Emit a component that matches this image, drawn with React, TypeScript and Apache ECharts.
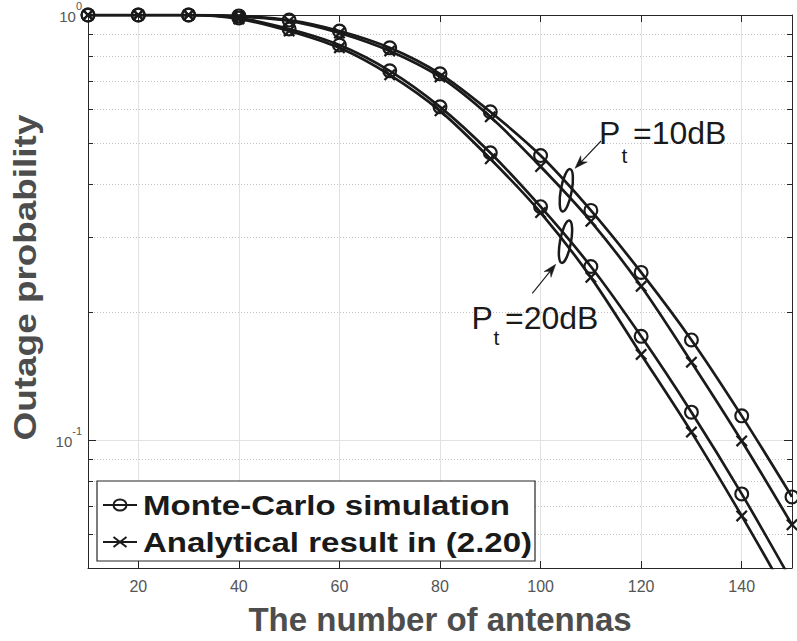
import React, { useEffect, useRef } from 'react';
import * as echarts from 'echarts';

// ---------- data ----------
const antennas = [10, 20, 30, 40, 50, 60, 70, 80, 90, 100, 110, 120, 130, 140, 150];
const mcPt10 = [1, 1, 1, 0.995, 0.973, 0.917, 0.837, 0.727, 0.592, 0.467, 0.347, 0.248, 0.172, 0.114, 0.0735];
const anPt10 = [1, 1, 1, 0.992, 0.968, 0.907, 0.823, 0.715, 0.576, 0.44, 0.327, 0.23, 0.1525, 0.0995, 0.0632];
const mcPt20 = [1, 1, 1, 0.984, 0.927, 0.85, 0.739, 0.608, 0.474, 0.354, 0.256, 0.1754, 0.1163, 0.0747, 0.0464];
const anPt20 = [1, 1, 1, 0.979, 0.917, 0.837, 0.723, 0.595, 0.459, 0.343, 0.2414, 0.159, 0.1044, 0.0663, 0.0412];
const minorYValues = [0.06, 0.07, 0.08, 0.09, 0.2, 0.3, 0.4, 0.5, 0.6, 0.7, 0.8, 0.9];
const legendLabels = ['Monte-Carlo simulation', 'Analytical result in (2.20)'];
const xTitle = 'The number of antennas';
const yTitle = 'Outage probability';
const annot10 = ['P', 't', '=10dB'];
const annot20 = ['P', 't', '=20dB'];

const FONT = "'Liberation Sans', Arial, Helvetica, sans-serif";
const INK = '#1a1a1a';
const AXIS = '#262626';
const RING = 'path://M0,-10A10,10,0,1,1,0,10A10,10,0,1,1,0,-10ZM0,-7.1A7.1,7.1,0,1,0,0,7.1A7.1,7.1,0,1,0,0,-7.1Z';
const CROSS = 'path://M-10,-7.3L-7.3,-10L0,-2.7L7.3,-10L10,-7.3L2.7,0L10,7.3L7.3,10L0,2.7L-7.3,10L-10,7.3L-2.7,0Z';

function arrow(sx: number, sy: number, tx: number, ty: number) {
  const dx = tx - sx, dy = ty - sy;
  const len = Math.sqrt(dx * dx + dy * dy);
  const ux = dx / len, uy = dy / len;
  const nx = -uy, ny = ux;
  const L = 13, W = 4.5;
  const bx = tx - L * ux, by = ty - L * uy;
  const notch = [tx - 9 * ux, ty - 9 * uy];
  return [
    { type: 'line', z: 20, shape: { x1: sx, y1: sy, x2: notch[0], y2: notch[1] }, style: { stroke: INK, lineWidth: 1.1 } },
    {
      type: 'polygon', z: 20,
      shape: { points: [[tx, ty], [bx + W * nx, by + W * ny], notch, [bx - W * nx, by - W * ny]] },
      style: { fill: INK, stroke: INK, lineWidth: 0.5 },
    },
  ];
}

function txt(x: number, y: number, text: string, size: number, extra: any = {}) {
  return {
    type: 'text', x, y, z: 20, ...extra,
    style: { text, fontSize: size, fontFamily: FONT, fill: INK, align: 'left', verticalAlign: 'middle', ...(extra.style || {}) },
  };
}

function isPow10(v: number) {
  const l = Math.log10(v);
  return Math.abs(l - Math.round(l)) < 1e-6;
}

export default function App() {
  const ref = useRef<HTMLDivElement>(null);
  useEffect(() => {
    if (!ref.current) return;
    const chart = echarts.init(ref.current, undefined, { renderer: 'svg' });

    const curve = (name: string, vals: number[], symbol: string, size: number, extra: any = {}) => ({
      type: 'line',
      name,
      data: antennas.map((x, i) => [x, vals[i]]),
      symbol,
      symbolSize: size,
      showSymbol: true,
      smooth: 0.3,
      clip: true,
      silent: true,
      z: 3,
      lineStyle: { color: INK, width: 2.7 },
      itemStyle: { color: INK, borderWidth: 0 },
      ...extra,
    });

    const markData: any[] = [];
    minorYValues.forEach((v) => {
      markData.push({ yAxis: v, lineStyle: { type: [1, 2], color: '#c2c2c2', width: 1 } });
      markData.push([{ coord: [10, v], lineStyle: { type: 'solid', color: AXIS, width: 1 } }, { coord: [11, v] }]);
      markData.push([{ coord: [149, v], lineStyle: { type: 'solid', color: AXIS, width: 1 } }, { coord: [150, v] }]);
    });

    const xAxisBase = {
      type: 'value', min: 10, max: 150, splitNumber: 7,
      axisLine: { show: true, onZero: false, lineStyle: { color: AXIS, width: 1 } },
      axisTick: { show: true, inside: true, length: 7, lineStyle: { color: AXIS } },
    };
    const yAxisBase = {
      type: 'log', logBase: 10, min: 0.05, max: 1,
      axisLine: { show: true, onZero: false, lineStyle: { color: AXIS, width: 1 } },
      axisTick: { show: true, inside: true, length: 8, lineStyle: { color: AXIS } },
    };

    const legendX = 97, legendY = 481, r1 = 505, r2 = 542;

    chart.setOption({
      animation: false,
      backgroundColor: '#ffffff',
      grid: { left: 88, right: 5, top: 15, bottom: 72, containLabel: false },
      xAxis: [
        {
          ...xAxisBase, position: 'bottom',
          axisLabel: { show: true, showMinLabel: false, showMaxLabel: false, fontSize: 16, color: '#555555', fontFamily: FONT, margin: 10 },
          splitLine: { show: true, lineStyle: { color: '#e2e2e2', width: 1 } },
          name: xTitle, nameLocation: 'middle', nameGap: 35,
          nameTextStyle: { fontSize: 33, fontWeight: 'bold', color: '#4d4d4d', fontFamily: FONT },
        },
        { ...xAxisBase, position: 'top', axisLabel: { show: false }, splitLine: { show: false } },
      ],
      yAxis: [
        {
          ...yAxisBase, position: 'left',
          axisLabel: {
            show: true, margin: 6, padding: [0, 0, 6, 0],
            formatter: (v: number) => {
              if (!isPow10(v)) return '';
              const e = Math.round(Math.log10(v));
              return '{b|10}{s|' + e + '}';
            },
            rich: {
              b: { fontSize: 15, color: '#555555', fontFamily: FONT, lineHeight: 24, verticalAlign: 'bottom' },
              s: { fontSize: 11, color: '#555555', fontFamily: FONT, lineHeight: 10, verticalAlign: 'top' },
            },
          },
          splitLine: { show: true, lineStyle: { color: '#e2e2e2', width: 1 } },
        },
        { ...yAxisBase, position: 'right', axisLabel: { show: false }, splitLine: { show: false } },
      ],
      series: [
        curve(legendLabels[0], mcPt10, RING, 15, {
          markLine: { silent: true, symbol: ['none', 'none'], label: { show: false }, z: 1, animation: false, data: markData },
        }),
        curve(legendLabels[1], anPt10, CROSS, 12),
        curve(legendLabels[0], mcPt20, RING, 15),
        curve(legendLabels[1], anPt20, CROSS, 12),
      ],
      graphic: {
        elements: [
          // y axis title
          {
            type: 'text', x: 25, y: 277.5, rotation: Math.PI / 2, scaleX: 1.19, z: 20,
            style: { text: yTitle, fontSize: 31, fontWeight: 'bold', fontFamily: FONT, fill: '#4d4d4d', align: 'center', verticalAlign: 'middle' },
          },
          // legend
          {
            type: 'rect', z: 20, shape: { x: legendX, y: legendY, width: 438, height: 80 },
            style: { fill: '#ffffff', stroke: AXIS, lineWidth: 1.2 },
          },
          { type: 'line', z: 21, shape: { x1: 103, y1: r1, x2: 137, y2: r1 }, style: { stroke: INK, lineWidth: 2 } },
          { type: 'ellipse', z: 21, shape: { cx: 120, cy: r1, rx: 6.5, ry: 5.5 }, style: { fill: 'none', stroke: INK, lineWidth: 2 } },
          { type: 'line', z: 21, shape: { x1: 103, y1: r2, x2: 137, y2: r2 }, style: { stroke: INK, lineWidth: 2 } },
          { type: 'line', z: 21, shape: { x1: 113.5, y1: r2 - 5, x2: 126.5, y2: r2 + 5 }, style: { stroke: INK, lineWidth: 2 } },
          { type: 'line', z: 21, shape: { x1: 113.5, y1: r2 + 5, x2: 126.5, y2: r2 - 5 }, style: { stroke: INK, lineWidth: 2 } },
          txt(143, r1, legendLabels[0], 28, { scaleX: 1.18, z: 21, style: { fontWeight: 'bold' } }),
          txt(143, r2, legendLabels[1], 28, { scaleX: 1.18, z: 21, style: { fontWeight: 'bold' } }),
          // annotations
          {
            type: 'ellipse', z: 20, x: 566.3, y: 190.3, rotation: -0.18,
            shape: { cx: 0, cy: 0, rx: 5.5, ry: 21.5 }, style: { fill: 'none', stroke: INK, lineWidth: 2.5 },
          },
          {
            type: 'ellipse', z: 20, x: 565.5, y: 241.7, rotation: -0.18,
            shape: { cx: 0, cy: 0, rx: 5.5, ry: 21.5 }, style: { fill: 'none', stroke: INK, lineWidth: 2.5 },
          },
          ...arrow(601, 141, 575, 168.3),
          ...arrow(532.3, 293.3, 555.7, 264.3),
          txt(599, 132.5, annot10[0], 32),
          txt(621.5, 155, annot10[1], 21),
          txt(633, 132.5, annot10[2], 32),
          txt(471.5, 317.5, annot20[0], 32),
          txt(493.5, 337.5, annot20[1], 21),
          txt(505, 317.5, annot20[2], 32),
        ],
      },
    });
    return () => chart.dispose();
  }, []);

  return <div ref={ref} style={{ position: 'absolute', left: 0, top: 0, width: 797, height: 641 }} />;
}
